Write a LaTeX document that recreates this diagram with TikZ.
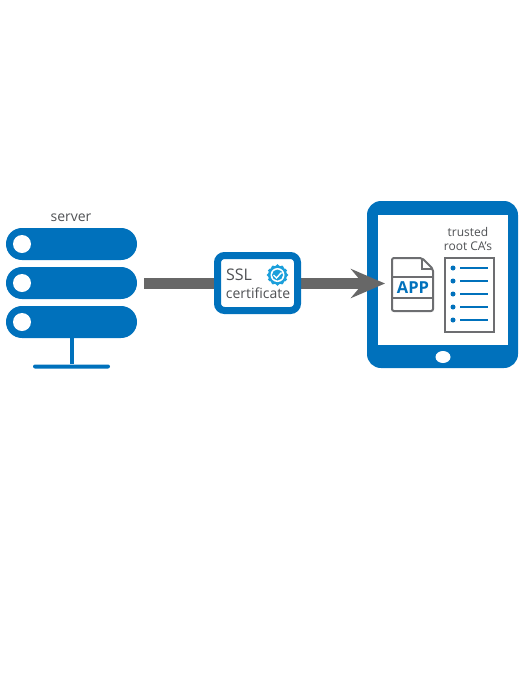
\documentclass[tikz,border=0pt]{standalone}
\usepackage{fontspec}
\setmainfont{Open Sans}
\usetikzlibrary{arrows.meta}
\usetikzlibrary{shapes.geometric}
\definecolor{bluemain}{HTML}{0071BC}
\definecolor{bluebadge}{HTML}{1B9FDB}
\definecolor{greytext}{HTML}{4F5154}
\definecolor{greyarrow}{HTML}{676767}
\definecolor{greydoc}{HTML}{6D6E71}
\tikzset{
  serverbar/.style={fill=bluemain,rounded corners=15.9pt,minimum width=131pt,minimum height=32pt,inner sep=0pt},
  serverled/.style={circle,fill=white,minimum size=18pt,inner sep=0pt},
  label/.style={text=greytext,font=\fontsize{12}{14}\selectfont,inner sep=0pt},
  listdot/.style={circle,fill=bluemain,minimum size=5pt,inner sep=0pt},
  listline/.style={draw=bluemain,line width=1.5pt},
  docline/.style={draw=greydoc,line width=2pt}
}
\begin{document}
\begin{tikzpicture}[x=1pt,y=-1pt]
\useasboundingbox (0,0) rectangle (524,689);
% server
\node[label,font=\fontsize{14}{16}\selectfont] (SV) at (71,217.5) {server};
\node[serverbar] (S1) at (71.5,244) {};
\node[serverbar] (S2) at (71.5,283) {};
\node[serverbar] (S3) at (71.5,322) {};
\node[serverled] (L1) at (22,244) {};
\node[serverled] (L2) at (22,283) {};
\node[serverled] (L3) at (22,322) {};
\node[fill=bluemain,rounded corners=2pt,minimum width=77pt,minimum height=4pt,inner sep=0pt] (SB) at (71.5,366.5) {};
\draw[bluemain,line width=4pt] (S3.south) -- (SB.north);

% tablet
\node[fill=bluemain,rounded corners=14pt,minimum width=151pt,minimum height=167pt,inner sep=0pt] (TB) at (442.5,284.5) {};
\node[fill=white,minimum width=130pt,minimum height=130pt,inner sep=0pt] (TS) at (443,280) {};
\node[ellipse,fill=white,minimum width=15pt,minimum height=12pt,inner sep=0pt] (BT) at (443,357) {};

% arrow
\coordinate (AS) at (144,283.5);
\coordinate (AE) at (385,283.5);
\draw[greyarrow,line width=11pt,-{Stealth[length=34pt,width=29pt,inset=12pt]}] (AS) -- (AE);

% certificate
\node[draw=bluemain,fill=white,line width=7pt,rounded corners=7pt,minimum width=80pt,minimum height=55pt,inner sep=0pt] (CT) at (257.5,283) {};
\node[label,font=\fontsize{16}{18}\selectfont] (SL) at (239,275) {SSL};
\node[label,font=\fontsize{14}{16}\selectfont] (CL) at (258,293) {certificate};
\node[circle,fill=bluebadge,minimum size=19pt,inner sep=0pt] (BG) at (277.5,275) {};
\foreach \a in {0,30,...,330}
  \fill[bluebadge] (BG.center) ++(\a:9pt) circle (1.9pt);
\node[circle,fill=white,minimum size=14pt,inner sep=0pt] (BW) at (BG.center) {};
\node[circle,fill=bluebadge,minimum size=11pt,inner sep=0pt] (BC) at (BG.center) {};
\draw[white,line width=1.4pt] (273.5,275) -- (276.5,278) -- (281.5,272.5);

% app
\draw[docline,rounded corners=2pt] (392,258) -- (422,258) -- (433,269) -- (433,311) -- (392,311) -- cycle;
\draw[docline] (422,258) -- (422,269) -- (433,269);
\draw[docline] (392,277) -- (433,277);
\draw[docline] (392,298) -- (433,298);
\node[text=bluemain,font=\fontsize{16.5}{18}\selectfont\bfseries,inner sep=0pt] (AP) at (413,288) {APP};

% root list
\node[label] (TR) at (468,232) {trusted};
\node[label] (RC) at (468,246) {root CA's};
\node[docline,minimum width=49pt,minimum height=74pt,inner sep=0pt] (LS) at (469,295) {};
\foreach \y in {268,281,294,307,320} {
  \node[listdot] (D\y) at (453,\y) {};
  \draw[listline] (460,\y) -- (488,\y);
}
\end{tikzpicture}
\end{document}
